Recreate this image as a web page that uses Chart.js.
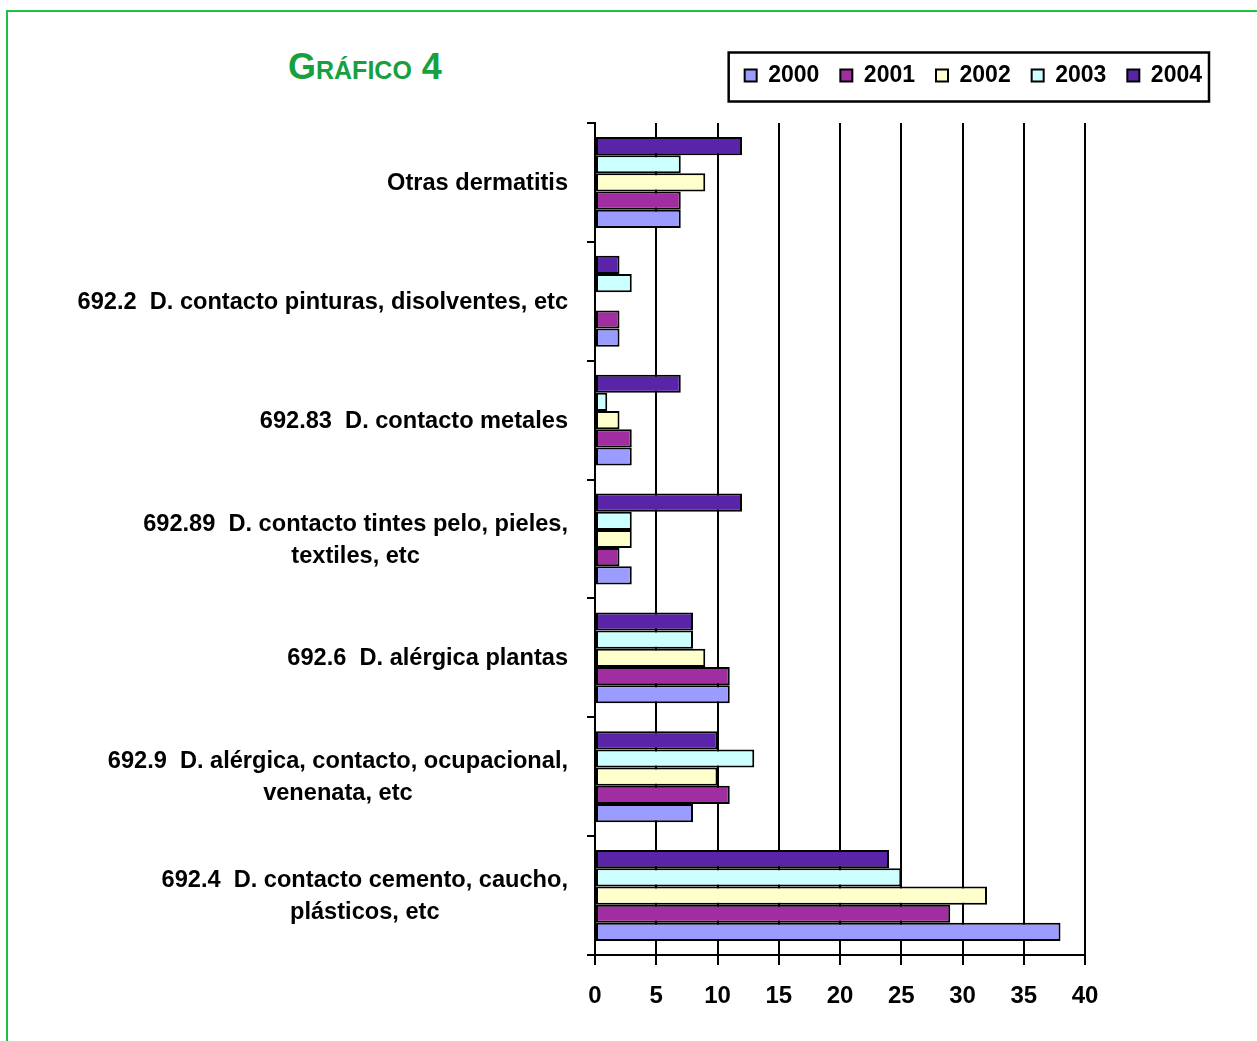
<!DOCTYPE html>
<html>
<head>
<meta charset="utf-8">
<script src="https://cdn.jsdelivr.net/npm/chart.js@4/dist/chart.umd.min.js"></script>
<style>
  body { margin: 0; background: #fff; }
  #wrap { position: relative; width: 1257px; height: 1041px; }
  #frame { position: absolute; left: 6px; top: 10px; right: 0; bottom: 0;
           border-top: 2px solid #1fbf45; border-left: 2px solid #1fbf45; }
  #title { position: absolute; left: 288px; top: 46px; color: #16a040;
           font: bold 36px "Liberation Sans", Arial, sans-serif; font-variant: small-caps; }
  #box { position: absolute; left: 0; top: 0; width: 1257px; height: 1041px; }
</style>
</head>
<body>
<div id="wrap">
  <div id="frame"></div>
  <div id="title">Gráfico 4</div>
  <div id="box"><canvas id="grafico"></canvas></div>
</div>
<script>
// categorias (de arriba a abajo)
const categorias = [
  "Otras dermatitis",
  "692.2  D. contacto pinturas, disolventes, etc",
  "692.83  D. contacto metales",
  ["692.89  D. contacto tintes pelo, pieles,", "textiles, etc"],
  "692.6  D. alérgica plantas",
  ["692.9  D. alérgica, contacto, ocupacional,", "venenata, etc"],
  ["692.4  D. contacto cemento, caucho,", "plásticos, etc"]
];
const anios = ["2000", "2001", "2002", "2003", "2004"];
const v2000 = [7, 2, 3, 3, 11, 8, 38];
const v2001 = [7, 2, 3, 2, 11, 11, 29];
const v2002 = [9, 0, 2, 3, 9, 10, 32];
const v2003 = [7, 3, 1, 3, 8, 13, 25];
const v2004 = [12, 2, 7, 12, 8, 10, 24];
const colores = ["#9a9cff", "#a02ea0", "#ffffcc", "#ccffff", "#5a24a8"];
const ticksX = [0, 5, 10, 15, 20, 25, 30, 35, 40];

const valores = [v2000, v2001, v2002, v2003, v2004];
const fuente = '"Liberation Sans", Arial, sans-serif';

// 2004 arriba, 2000 abajo -> datasets al reves, leyenda invertida
let datasets = [];
for (let i = anios.length - 1; i >= 0; i--) {
  datasets.push({
    label: anios[i],
    data: valores[i],
    backgroundColor: colores[i],
    borderColor: "#000",
    borderWidth: 2,
    borderSkipped: false,
    barPercentage: 1.0,
    categoryPercentage: 0.765
  });
}

// etiquetas de categoria centradas entre si, alineadas a la derecha
const etiquetas = {
  id: "etiquetas",
  afterDraw(chart) {
    const ctx = chart.ctx;
    const y = chart.scales.y;
    ctx.save();
    ctx.font = "bold 23.6px " + fuente;
    ctx.fillStyle = "#000";
    ctx.textAlign = "center";
    ctx.textBaseline = "middle";
    categorias.forEach((cat, i) => {
      const lineas = Array.isArray(cat) ? cat : [cat];
      const ancho = Math.max(...lineas.map(l => ctx.measureText(l).width));
      const cx = y.right - 27 - ancho / 2;
      const yc = y.getPixelForValue(i) + 1;
      lineas.forEach((l, k) => {
        ctx.fillText(l, cx, yc + (k - (lineas.length - 1) / 2) * 32);
      });
    });
    ctx.restore();
  }
};

// marco de la leyenda
const marcoLeyenda = {
  id: "marcoLeyenda",
  afterDraw(chart) {
    const cajas = chart.legend.legendHitBoxes;
    if (!cajas || !cajas.length) return;
    let izq = Math.min(...cajas.map(c => c.left));
    let der = Math.max(...cajas.map(c => c.left + c.width));
    let yc = cajas[0].top + cajas[0].height / 2;
    const ctx = chart.ctx;
    ctx.save();
    ctx.strokeStyle = "#000";
    ctx.lineWidth = 2.5;
    ctx.strokeRect(izq - 16, yc - 23, der - izq + 23, 49);
    ctx.restore();
  }
};

new Chart(document.getElementById("grafico"), {
  type: "bar",
  data: { labels: categorias, datasets: datasets },
  plugins: [etiquetas, marcoLeyenda],
  options: {
    indexAxis: "y",
    responsive: true,
    maintainAspectRatio: false,
    animation: false,
    layout: { padding: { top: 43, right: 34, left: 0, bottom: 0 } },
    plugins: {
      tooltip: { enabled: false },
      legend: {
        position: "top",
        align: "end",
        reverse: true,
        labels: {
          boxWidth: 12,
          boxHeight: 12,
          padding: 21,
          color: "#000",
          font: { family: fuente, size: 23, weight: "bold" }
        }
      }
    },
    scales: {
      x: {
        type: "linear",
        position: "bottom",
        min: 0,
        max: 40,
        afterBuildTicks(s) { s.ticks = ticksX.map(v => ({ value: v })); },
        afterFit(s) { s.height = 86; },
        grid: { color: "#000", lineWidth: 2, tickLength: 10, drawTicks: true },
        border: { display: true, color: "#000", width: 2 },
        ticks: { color: "#000", padding: 17, font: { family: fuente, size: 24, weight: "bold" } }
      },
      y: {
        type: "category",
        position: "left",
        afterFit(s) { s.width = 595; },
        grid: { drawOnChartArea: false, drawTicks: true, tickLength: 8, color: "#000", lineWidth: 2, offset: true },
        border: { display: true, color: "#000", width: 2 },
        ticks: { display: false }
      },
      x2: {
        type: "linear",
        position: "top",
        afterFit(s) { s.height = 26; },
        grid: { display: false },
        border: { display: false },
        ticks: { display: false }
      },
      y2: {
        type: "linear",
        position: "right",
        afterFit(s) { s.width = 138; },
        grid: { display: false },
        border: { display: false },
        ticks: { display: false }
      }
    }
  }
});
</script>
</body>
</html>
